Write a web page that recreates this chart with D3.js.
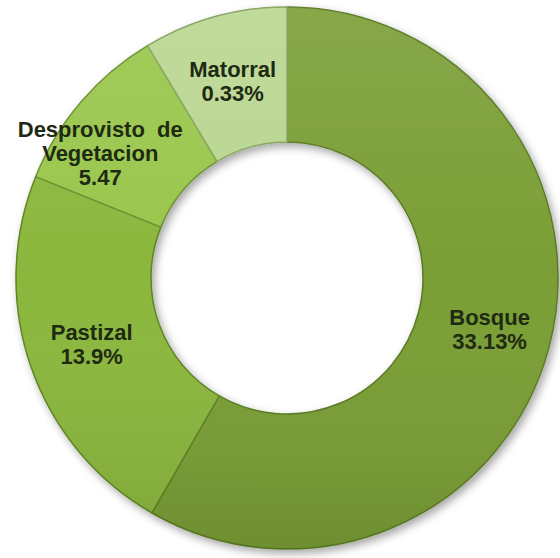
<!DOCTYPE html>
<html>
<head>
<meta charset="utf-8">
<script src="https://cdn.jsdelivr.net/npm/d3@7"></script>
<style>
  html, body { margin: 0; padding: 0; background: #ffffff; }
  svg { display: block; }
</style>
</head>
<body>
<svg id="chart" width="560" height="558"></svg>
<script>
// ---- data ----
const categories = ["Bosque", "Pastizal", "Desprovisto de Vegetacion", "Matorral"];
// angular share of each slice as drawn in the picture (percent of the ring)
const sliceShares = [58.3, 22.8, 10.3, 8.6];
// value labels as printed on the chart
const valueLabels = ["33.13%", "13.9%", "5.47", "0.33%"];
// category label lines as printed
const nameLines = [["Bosque"], ["Pastizal"], ["Desprovisto  de", "Vegetacion"], ["Matorral"]];

// ---- layout / style ----
const W = 560, H = 558;
const cx = 287, cy = 278;
const outerR = 271, innerR = 136;
const colors = ["#7a9e35", "#8bb73c", "#99c64b", "#b9d690"];
const strokes = ["#5a7a22", "#5e8424", "#6a9030", "#86a45e"];
const labelNudge = [[6, 0], [-3, 0], [-32, 8], [0, 0]];

const svg = d3.select("#chart");
const defs = svg.append("defs");

const shadow = defs.append("filter").attr("id", "shadow")
  .attr("x", "-10%").attr("y", "-10%").attr("width", "120%").attr("height", "120%");
shadow.append("feDropShadow").attr("dx", 3).attr("dy", 4).attr("stdDeviation", 4)
  .attr("flood-color", "#000").attr("flood-opacity", 0.35);

const shade = defs.append("linearGradient").attr("id", "shade")
  .attr("x1", 0).attr("y1", 0).attr("x2", 0).attr("y2", 1);
shade.append("stop").attr("offset", "0%").attr("stop-color", "#ffffff").attr("stop-opacity", 0.10);
shade.append("stop").attr("offset", "50%").attr("stop-color", "#ffffff").attr("stop-opacity", 0.0);
shade.append("stop").attr("offset", "100%").attr("stop-color", "#000000").attr("stop-opacity", 0.10);

const data = categories.map((c, i) => ({ name: c, share: sliceShares[i], label: valueLabels[i], lines: nameLines[i], i }));

const pie = d3.pie().value(d => d.share).sort(null);
const arcs = pie(data);
const arc = d3.arc().innerRadius(innerR).outerRadius(outerR);

const g = svg.append("g").attr("transform", `translate(${cx},${cy})`);

const ring = g.append("g").attr("filter", "url(#shadow)");
ring.selectAll("path.slice").data(arcs).enter().append("path")
  .attr("class", "slice")
  .attr("d", arc)
  .attr("fill", d => colors[d.data.i])
  .attr("stroke", d => strokes[d.data.i])
  .attr("stroke-width", 1.5);

// subtle vertical lighting over the whole ring
g.append("path")
  .attr("d", d3.arc().innerRadius(innerR).outerRadius(outerR).startAngle(0).endAngle(2 * Math.PI)())
  .attr("fill", "url(#shade)")
  .attr("pointer-events", "none");

// labels
const labels = g.selectAll("g.lab").data(arcs).enter().append("g")
  .attr("class", "lab")
  .attr("transform", d => {
    const c = arc.centroid(d);
    const n = labelNudge[d.data.i];
    return `translate(${c[0] + n[0]},${c[1] + n[1]})`;
  });

labels.each(function(d) {
  const lines = d.data.lines.concat([d.data.label]);
  const lh = 24;
  const t = d3.select(this).append("text")
    .attr("text-anchor", "middle")
    .attr("font-family", "'Liberation Sans', Arial, sans-serif")
    .attr("font-weight", "bold")
    .attr("font-size", 22)
    .attr("fill", "#1f2a12");
  lines.forEach((ln, k) => {
    t.append("tspan")
      .attr("x", 0)
      .attr("y", (k - (lines.length - 1) / 2) * lh + 7)
      .attr("xml:space", "preserve")
      .style("white-space", "pre")
      .text(ln);
  });
});
</script>
</body>
</html>
